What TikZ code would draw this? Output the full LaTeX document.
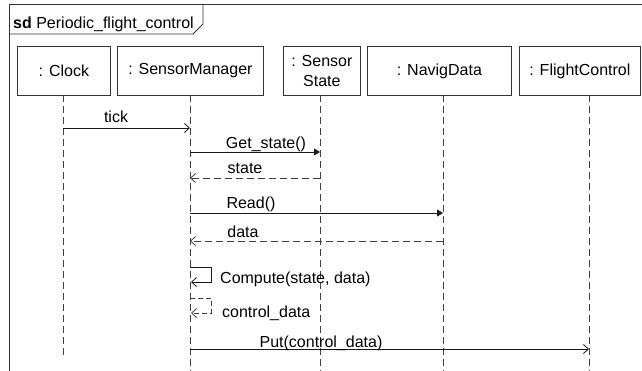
\documentclass[tikz,border=0pt]{standalone}
\usepackage{fontspec}
\setmainfont{Liberation Sans}
\usetikzlibrary{arrows.meta}
\tikzset{
  frame/.style={draw=black!80, line width=0.8pt},
  head/.style={draw=black!80, line width=0.8pt, anchor=north west, minimum height=49pt, inner sep=0pt, align=center},
  life/.style={draw=black!75, line width=0.8pt, dash pattern=on 7pt off 4pt},
  call/.style={draw=black!90, line width=0.8pt, -{Straight Barb[length=5pt,width=9pt]}},
  sync/.style={draw=black!90, line width=0.8pt, -{Triangle[length=6pt,width=7pt]}},
  reply/.style={draw=black!75, line width=0.8pt, dash pattern=on 7pt off 4pt, -{Straight Barb[length=5pt,width=9pt]}},
  lbl/.style={inner sep=0pt, anchor=base}
}
\begin{document}
\begin{tikzpicture}[x=1pt, y=-1pt, font=\fontsize{16}{20}\selectfont]
                \useasboundingbox (0,0) rectangle (642,370);

                \draw[frame] (9,375) -- (9,4) -- (646,4);
                \draw[frame] (9,34) -- (193,34) -- (203,24) -- (203,4);
                \node[inner sep=0pt, anchor=base west] (title) at (13,28) {\textbf{sd} Periodic\_flight\_control};

                \node[head, minimum width=93pt] (clock) at (17,46) {: Clock};
                \node[head, minimum width=146pt] (sm) at (117,46) {: SensorManager};
                \node[head, minimum width=77pt] (ss) at (283,46) {: Sensor\\State};
                \node[head, minimum width=144pt] (nd) at (367,46) {: NavigData};
                \node[head, minimum width=121pt] (fc) at (519,46) {: FlightControl};

                \coordinate (lclock) at (63,95);
                \coordinate (lsm) at (190,95);
                \coordinate (lss) at (320,95);
                \coordinate (lnd) at (443,95);
                \coordinate (lfc) at (589,95);
                \coordinate (endclock) at (0,358);
                \coordinate (bottom) at (0,374);

                \draw[life] (lclock) -- (lclock |- endclock);
                \draw[life] (lsm) -- (lsm |- bottom);
                \draw[life] (lss) -- (lss |- bottom);
                \draw[life] (lnd) -- (lnd |- bottom);
                \draw[life] (lfc) -- (lfc |- bottom);

                \coordinate (tick) at (0,128);
                \coordinate (get) at (0,152);
                \coordinate (state) at (0,178);
                \coordinate (read) at (0,213);
                \coordinate (data) at (0,241);
                \coordinate (cmptop) at (0,267);
                \coordinate (cmpbot) at (0,282);
                \coordinate (rettop) at (0,298);
                \coordinate (retbot) at (0,313);
                \coordinate (put) at (0,349);
                \coordinate (selfx) at (211,0);

                \draw[call] (lclock |- tick) -- (lsm |- tick);
                \draw[sync] (lsm |- get) -- (lss |- get);
                \draw[reply] (lss |- state) -- (lsm |- state);
                \draw[sync] (lsm |- read) -- (lnd |- read);
                \draw[reply] (lnd |- data) -- (lsm |- data);
                \draw[call] (lsm |- cmptop) -| (selfx |- cmpbot) -- ([xshift=1pt]lsm |- cmpbot);
                \draw[reply, dash pattern=on 5pt off 3pt] (lsm |- rettop) -| (selfx |- retbot) -- ([xshift=1pt]lsm |- retbot);
                \draw[call] (lsm |- put) -- (lfc |- put);

                \node[lbl] (ticklbl) at (116,122) {tick};
                \node[lbl] (getlbl) at (266,148) {Get\_state()};
                \node[lbl] (statelbl) at (245,173) {state};
                \node[lbl] (readlbl) at (251,208) {Read()};
                \node[lbl] (datalbl) at (243,237) {data};
                \node[lbl, anchor=base west] (cmplbl) at (220,283) {Compute(state, data)};
                \node[lbl, anchor=base west] (retlbl) at (222,317) {control\_data};
                \node[lbl] (putlbl) at (321,347) {Put(control\_data)};
            \end{tikzpicture}
\end{document}
